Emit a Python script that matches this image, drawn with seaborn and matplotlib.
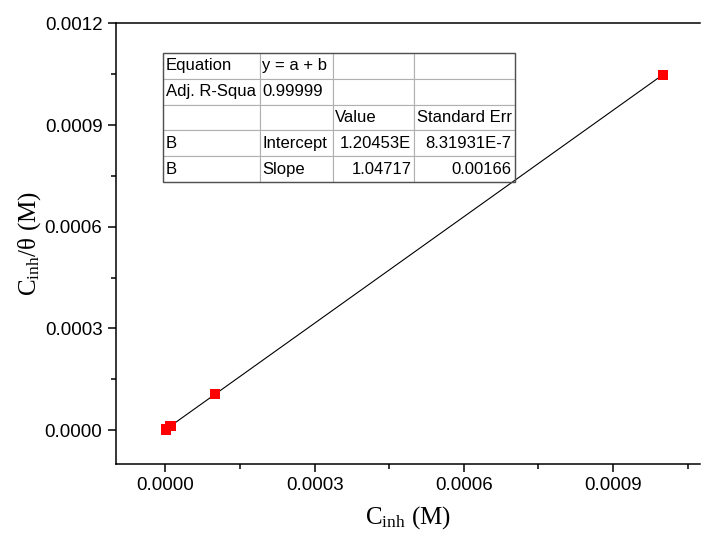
import numpy as np
import pandas as pd
import seaborn as sns
import matplotlib
matplotlib.use("Agg")
import matplotlib.pyplot as plt
from matplotlib.ticker import MultipleLocator, FormatStrFormatter

# --- data ---
c_inh = [0.000001, 0.00001, 0.0001, 0.001]
c_over_theta = [0.0000022, 0.0000117, 0.000106, 0.001048]

table_rows = [
    ["Equation", "y = a + b", "", ""],
    ["Adj. R-Squa", "0.99999", "", ""],
    ["", "", "Value", "Standard Err"],
    ["B", "Intercept", "1.20453E", "8.31931E-7"],
    ["B", "Slope", "1.04717", "0.00166"],
]
col_widths = [97, 73, 81, 101]

df = pd.DataFrame({"c_inh": c_inh, "c_over_theta": c_over_theta})

sns.set_style("ticks")
plt.rcParams["font.family"] = ["Liberation Sans", "DejaVu Sans"]
plt.rcParams["mathtext.fontset"] = "custom"
plt.rcParams["mathtext.rm"] = "Liberation Serif"
plt.rcParams["mathtext.it"] = "Liberation Serif:italic"
for key in ["text.color", "axes.labelcolor", "xtick.color", "ytick.color", "axes.edgecolor"]:
    plt.rcParams[key] = "black"

fig = plt.figure(figsize=(7.01, 5.45), dpi=100)
ax = fig.add_axes([0.165, 0.1486, 0.8335, 0.8086])

sns.regplot(
    data=df,
    x="c_inh",
    y="c_over_theta",
    ci=None,
    ax=ax,
    marker="s",
    scatter_kws={"color": "#ff0000", "s": 55, "edgecolors": "none", "alpha": 1, "zorder": 3},
    line_kws={"color": "black", "lw": 0.8, "zorder": 2},
)

ax.set_xlim(-0.0001, 0.001075)
ax.set_ylim(-0.0001, 0.0012)
ax.xaxis.set_major_locator(MultipleLocator(0.0003))
ax.xaxis.set_minor_locator(MultipleLocator(0.00015))
ax.yaxis.set_major_locator(MultipleLocator(0.0003))
ax.yaxis.set_minor_locator(MultipleLocator(0.00015))
ax.xaxis.set_major_formatter(FormatStrFormatter("%.4f"))
ax.yaxis.set_major_formatter(FormatStrFormatter("%.4f"))
ax.tick_params(axis="both", which="major", length=6, width=1.1, labelsize=13.5, direction="out")
ax.tick_params(axis="both", which="minor", length=3.5, width=1.1, direction="out")

for side in ["left", "bottom", "top"]:
    ax.spines[side].set_linewidth(1.1)
ax.spines["right"].set_visible(False)

ax.set_xlabel(r"$\mathrm{C_{inh}}$ (M)", fontsize=18, family="Liberation Serif", labelpad=7)
ax.set_ylabel(r"$\mathrm{C_{inh}/\theta}$ (M)", fontsize=18, family="Liberation Serif", labelpad=1)

# fit results table
tw = sum(col_widths)
tbl = ax.table(
    cellText=table_rows,
    colWidths=[w / tw for w in col_widths],
    bbox=[0.081, 0.640, 0.602, 0.2926],
    cellLoc="left",
)
tbl.auto_set_font_size(False)
tbl.set_fontsize(12)
for (r, c), cell in tbl.get_celld().items():
    cell.set_edgecolor("#b0b0b0")
    cell.set_linewidth(0.8)
    cell.PAD = 0.03
    txt = cell.get_text()
    if r in (3, 4) and c >= 2:
        txt.set_ha("right")
        cell._loc = "right"

# darker outer frame
ax.add_patch(plt.Rectangle((0.081, 0.640), 0.602, 0.2926, transform=ax.transAxes,
                           fill=False, edgecolor="#505050", lw=1.0, zorder=5))

plt.savefig("out.png", dpi=100)
plt.close()
